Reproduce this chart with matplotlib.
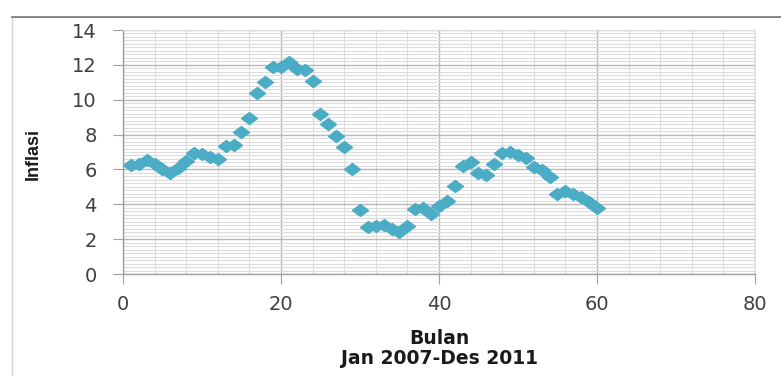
import matplotlib
matplotlib.use("Agg")
import matplotlib.pyplot as plt
from matplotlib.path import Path
from matplotlib.patches import Rectangle
from matplotlib.ticker import MultipleLocator

bulan = list(range(1, 61))
inflasi = [6.26, 6.30, 6.52, 6.29, 6.01, 5.77, 6.06, 6.51, 6.95, 6.88, 6.71, 6.59,
           7.36, 7.40, 8.17, 8.96, 10.38, 11.03, 11.90, 11.85, 12.14, 11.77, 11.68, 11.06,
           9.17, 8.60, 7.92, 7.31, 6.04, 3.65, 2.71, 2.75, 2.83, 2.57, 2.41, 2.78,
           3.72, 3.81, 3.43, 3.91, 4.16, 5.05, 6.22, 6.44, 5.80, 5.67, 6.33, 6.96,
           7.02, 6.84, 6.65, 6.16, 5.98, 5.54, 4.61, 4.79, 4.61, 4.42, 4.15, 3.79]
x_ticks = [0, 20, 40, 60, 80]
y_ticks = [0, 2, 4, 6, 8, 10, 12, 14]

W, H = 781, 376
fig = plt.figure(figsize=(W / 100, H / 100), dpi=100)
fig.patch.set_facecolor("white")

# outer chart border (top and left visible)
fig.add_artist(Rectangle((12 / W, -0.1), 1.2, 1 - 17 / H + 0.1, transform=fig.transFigure,
                         fill=False, edgecolor="#d0d0d0", linewidth=1.0))
fig.add_artist(plt.Line2D([12 / W, 1], [1 - 17 / H, 1 - 17 / H], transform=fig.transFigure,
                          color="#808080", linewidth=1.3))

ax = fig.add_axes([123 / W, 1 - 274 / H, (755 - 123) / W, (274 - 30) / H])
ax.set_xlim(0, 80)
ax.set_ylim(0, 14)
ax.set_xticks(x_ticks)
ax.set_yticks(y_ticks)
ax.xaxis.set_minor_locator(MultipleLocator(4))
ax.yaxis.set_minor_locator(MultipleLocator(0.2))

ax.grid(which="major", color="#b8b8b8", linewidth=1.0)
ax.grid(which="minor", color="#dcdcdc", linewidth=0.8)
ax.set_axisbelow(True)

for s in ["top", "right"]:
    ax.spines[s].set_color("#dcdcdc")
    ax.spines[s].set_linewidth(0.8)
for s in ["left", "bottom"]:
    ax.spines[s].set_color("#a0a0a0")
    ax.spines[s].set_linewidth(1.0)

ax.tick_params(which="major", length=7, color="#a0a0a0", labelcolor="#404040",
               labelsize=14, pad=12)
ax.tick_params(axis="x", pad=8)
ax.tick_params(which="minor", length=0)
for lab in ax.get_xticklabels() + ax.get_yticklabels():
    lab.set_family(["DejaVu Sans"])

diamond = Path([(-1, 0), (0, 0.75), (1, 0), (0, -0.75), (-1, 0)],
               [Path.MOVETO, Path.LINETO, Path.LINETO, Path.LINETO, Path.CLOSEPOLY])
ax.plot(bulan, inflasi, linestyle="none", marker=diamond, markersize=11.5,
        color="#4bacc6", markeredgecolor="#4bacc6", clip_on=False)

fig.text(439 / W, 1 - 338 / H, "Bulan", ha="center", va="center", fontsize=13.5,
         fontweight="bold", family=["DejaVu Sans"], color="#1a1a1a")
fig.text(439 / W, 1 - 359 / H, "Jan 2007-Des 2011", ha="center", va="center", fontsize=13.5,
         fontweight="bold", family=["DejaVu Sans"], color="#1a1a1a")
fig.text(33 / W, 1 - 154 / H, "Inflasi", ha="center", va="center", fontsize=13,
         fontweight="bold", rotation=90,
         family=["Liberation Sans Narrow", "Liberation Sans", "DejaVu Sans"],
         color="#1a1a1a")

fig.savefig("out.png", dpi=100, facecolor="white")
